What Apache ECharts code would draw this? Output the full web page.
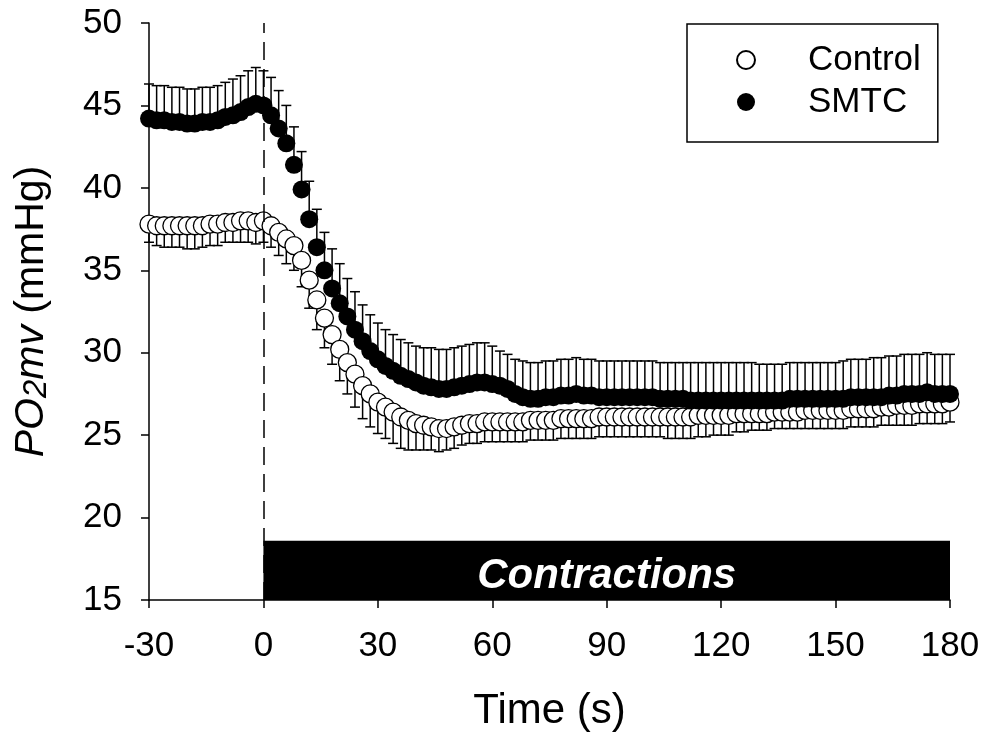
<!DOCTYPE html>
<html>
<head>
<meta charset="utf-8">
<script src="https://cdn.jsdelivr.net/npm/echarts@6/dist/echarts.min.js"></script>
<style>html,body{margin:0;padding:0;background:#fff;}#chart{width:984px;height:734px;}</style>
</head>
<body>
<div id="chart"></div>
<script>
// ---- data ----
var timeS = [-30,-28,-26,-24,-22,-20,-18,-16,-14,-12,-10,-8,-6,-4,-2,0,
  2,4,6,8,10,12,14,16,18,20,22,24,26,28,30,32,34,36,38,40,42,44,46,48,50,
  52,54,56,58,60,62,64,66,68,70,72,74,76,78,80,82,84,86,88,90,92,94,96,98,100,
  102,104,106,108,110,112,114,116,118,120,122,124,126,128,130,132,134,136,138,140,
  142,144,146,148,150,152,154,156,158,160,162,164,166,168,170,172,174,176,178,180];

var smtcMean = [44.2,44.1,44.1,44.0,44.0,43.9,43.9,44.0,44.0,44.1,44.3,44.4,44.6,44.9,45.1,45.0,
  44.4,43.6,42.7,41.4,39.9,38.1,36.4,35.0,33.9,33.0,32.2,31.4,30.7,30.1,29.6,29.2,28.9,28.6,28.4,28.2,28.0,27.9,27.8,27.8,27.9,
  28.0,28.1,28.2,28.2,28.1,28.0,27.8,27.5,27.3,27.2,27.2,27.3,27.3,27.4,27.4,27.5,27.4,27.4,27.3,27.3,27.3,27.3,27.3,27.3,27.3,
  27.3,27.2,27.2,27.2,27.2,27.1,27.1,27.1,27.1,27.1,27.1,27.1,27.1,27.1,27.1,27.1,27.1,27.1,27.2,27.2,
  27.2,27.2,27.2,27.2,27.2,27.2,27.3,27.3,27.3,27.3,27.3,27.4,27.4,27.5,27.5,27.5,27.6,27.5,27.5,27.5];

var smtcSE = [2.1,2.1,2.1,2.1,2.1,2.1,2.1,2.1,2.1,2.1,2.1,2.2,2.2,2.2,2.2,2.1,
  2.3,2.3,2.3,2.3,2.3,2.3,2.3,2.3,2.4,2.4,2.3,2.3,2.2,2.2,2.2,2.2,2.2,2.2,2.2,2.2,2.3,2.4,2.4,2.4,2.4,
  2.4,2.4,2.4,2.4,2.3,2.1,2.1,2.1,2.2,2.2,2.2,2.2,2.2,2.2,2.2,2.2,2.2,2.2,2.2,2.2,2.2,2.2,2.2,2.2,2.2,
  2.2,2.2,2.2,2.2,2.2,2.3,2.3,2.3,2.3,2.3,2.3,2.3,2.3,2.3,2.2,2.2,2.2,2.2,2.2,2.2,
  2.2,2.2,2.2,2.2,2.2,2.3,2.3,2.3,2.3,2.4,2.4,2.4,2.4,2.4,2.4,2.4,2.4,2.4,2.4,2.4];

var controlMean = [37.8,37.7,37.7,37.7,37.7,37.7,37.7,37.7,37.8,37.8,37.9,37.9,38.0,38.0,37.9,38.0,
  37.7,37.3,36.9,36.5,35.6,34.4,33.2,32.1,31.1,30.2,29.4,28.7,28.0,27.5,27.0,26.7,26.4,26.1,25.9,25.7,25.6,25.5,25.4,25.4,25.5,
  25.6,25.7,25.7,25.8,25.8,25.8,25.8,25.8,25.8,25.9,25.9,25.9,25.9,26.0,26.0,26.0,26.0,26.0,26.1,26.1,26.1,26.1,26.1,26.1,26.1,
  26.1,26.1,26.1,26.1,26.1,26.1,26.2,26.2,26.2,26.2,26.2,26.3,26.3,26.3,26.3,26.3,26.4,26.4,26.4,26.4,
  26.5,26.5,26.5,26.5,26.5,26.5,26.6,26.6,26.6,26.6,26.7,26.7,26.8,26.8,26.8,26.9,26.9,26.9,26.9,27.0];

var controlSE = [1.1,1.2,1.3,1.3,1.3,1.4,1.4,1.3,1.3,1.3,1.2,1.2,1.3,1.3,1.3,1.3,
  1.3,1.4,1.5,1.5,1.6,1.7,1.8,1.8,1.8,1.9,1.9,2.0,2.0,2.0,1.9,1.9,1.9,1.9,1.8,1.6,1.5,1.4,1.4,1.3,1.3,
  1.2,1.2,1.2,1.2,1.2,1.2,1.2,1.2,1.2,1.2,1.2,1.2,1.2,1.2,1.2,1.2,1.2,1.2,1.2,1.2,1.2,1.2,1.2,1.2,1.2,
  1.2,1.2,1.3,1.3,1.3,1.3,1.3,1.3,1.2,1.2,1.2,1.1,1.1,1.0,1.0,1.0,1.0,1.0,1.0,1.0,
  1.1,1.1,1.1,1.1,1.1,1.1,1.1,1.1,1.1,1.1,1.1,1.1,1.2,1.2,1.2,1.2,1.2,1.2,1.2,1.2];

var xTicks = {min: -30, max: 180, step: 30};
var yTicks = {min: 15, max: 50, step: 5};
var contractionsSpan = [0, 180];
var contractionsTop = 18.6;
var onsetTime = 0;

// ---- build ----
var FONT = "'Liberation Sans', Arial, sans-serif";
function zip3(t, m, e) { return t.map(function (v, i) { return [v, m[i], e[i]]; }); }
function zip2(t, m) { return t.map(function (v, i) { return [v, m[i]]; }); }

function errRender(dir) {
  return function (params, api) {
    var x = api.value(0), m = api.value(1), e = api.value(2);
    var p0 = api.coord([x, m]);
    var p1 = api.coord([x, m + dir * e]);
    var hw = 5;
    return {
      type: 'group',
      children: [
        { type: 'line', shape: { x1: p0[0], y1: p0[1], x2: p1[0], y2: p1[1] }, style: { stroke: '#000', lineWidth: 1.5 } },
        { type: 'line', shape: { x1: p1[0] - hw, y1: p1[1], x2: p1[0] + hw, y2: p1[1] }, style: { stroke: '#000', lineWidth: 1.5 } }
      ]
    };
  };
}

var chart = echarts.init(document.getElementById('chart'), null, { renderer: 'canvas' });
chart.setOption({
  animation: false,
  backgroundColor: '#fff',
  textStyle: { fontFamily: FONT, color: '#000' },
  grid: { left: 149, right: 34, top: 23, bottom: 134, containLabel: false, outerBoundsMode: 'none' },
  legend: {
    data: ['Control', 'SMTC'],
    orient: 'vertical',
    left: 687, top: 24,
    padding: [18, 17, 22, 49],
    borderColor: '#000', borderWidth: 1.5,
    itemWidth: 18, itemHeight: 18, itemGap: 6,
    selectedMode: false,
    textStyle: { fontFamily: FONT, fontSize: 35, lineHeight: 36, color: '#000', padding: [0, 0, 0, 48] }
  },
  xAxis: {
    type: 'value', min: xTicks.min, max: xTicks.max, interval: xTicks.step,
    axisLine: { show: true, onZero: false, lineStyle: { color: '#000', width: 1.5 } },
    axisTick: { show: true, inside: false, length: 8, lineStyle: { color: '#000', width: 1.5 } },
    axisLabel: { fontFamily: FONT, fontSize: 35, color: '#000', margin: 29 },
    splitLine: { show: false },
    name: 'Time (s)', nameLocation: 'middle', nameGap: 90,
    nameTextStyle: { fontFamily: FONT, fontSize: 42, color: '#000' }
  },
  yAxis: {
    type: 'value', min: yTicks.min, max: yTicks.max, interval: yTicks.step,
    axisLine: { show: true, onZero: false, lineStyle: { color: '#000', width: 1.5 } },
    axisTick: { show: true, inside: false, length: 8, lineStyle: { color: '#000', width: 1.5 } },
    axisLabel: { fontFamily: FONT, fontSize: 35, color: '#000', margin: 27 },
    splitLine: { show: false },
    name: '{i|PO}{s|2}{i|mv} (mmHg)',
    nameLocation: 'middle', nameRotate: 90, nameGap: 96,
    nameTextStyle: {
      fontFamily: FONT, fontSize: 41, color: '#000', lineHeight: 42,
      rich: {
        i: { fontFamily: FONT, fontSize: 41, fontStyle: 'italic', lineHeight: 42 },
        s: { fontFamily: FONT, fontSize: 33, fontStyle: 'italic', lineHeight: 28, verticalAlign: 'bottom' }
      }
    }
  },
  series: [
    {
      name: 'onset', type: 'line', data: [], z: 1,
      markLine: {
        silent: true, symbol: 'none', label: { show: false },
        lineStyle: { color: '#000', width: 1.5, type: [18, 9] },
        data: [{ xAxis: onsetTime }]
      }
    },
    {
      name: 'ControlErr', type: 'custom', z: 2,
      renderItem: errRender(-1),
      encode: { x: 0, y: 1 },
      data: zip3(timeS, controlMean, controlSE)
    },
    {
      name: 'Control', type: 'scatter', z: 3,
      symbol: 'circle', symbolSize: 18,
      itemStyle: { color: '#fff', borderColor: '#000', borderWidth: 1.3, opacity: 1 },
      data: zip2(timeS, controlMean)
    },
    {
      name: 'SMTCErr', type: 'custom', z: 4,
      renderItem: errRender(1),
      encode: { x: 0, y: 1 },
      data: zip3(timeS, smtcMean, smtcSE)
    },
    {
      name: 'SMTC', type: 'scatter', z: 5,
      symbol: 'circle', symbolSize: 18,
      itemStyle: { color: '#000', borderColor: '#000', borderWidth: 0, opacity: 1 },
      data: zip2(timeS, smtcMean)
    },
    {
      name: 'bar', type: 'line', data: [], z: 6,
      markArea: {
        silent: true,
        itemStyle: { color: '#000', opacity: 1 },
        label: {
          show: true, position: 'inside', offset: [0, 6],
          color: '#fff', fontFamily: FONT, fontSize: 42, fontStyle: 'italic', fontWeight: 'bold'
        },
        data: [[{ name: 'Contractions', coord: [contractionsSpan[0], yTicks.min] }, { coord: [contractionsSpan[1], contractionsTop] }]]
      }
    }
  ]
});
</script>
</body>
</html>
